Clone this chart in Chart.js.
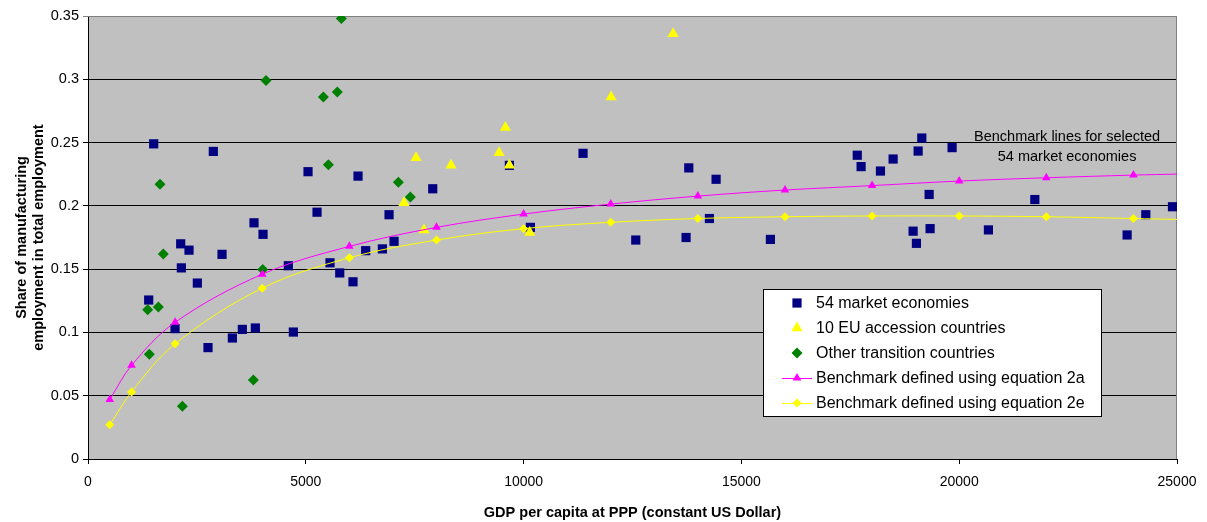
<!DOCTYPE html>
<html>
<head>
<meta charset="utf-8">
<script src="https://cdn.jsdelivr.net/npm/chart.js@4.4.0/dist/chart.umd.min.js"></script>
<style>
  html, body { margin: 0; padding: 0; background: #fff; }
  #wrap { width: 1207px; height: 522px; position: relative; }
</style>
</head>
<body>
<div id="wrap"><canvas id="chart"></canvas></div>
<script>
// ---- Data ----
const marketX = [1508, 2877, 5051, 6199, 7914, 5258, 6911, 3811, 4018, 7026,
    2128, 2319, 3077, 2143, 2510, 1393, 1998, 3314, 3543, 3842,
    4714, 2755, 4599, 5556, 5779, 6084, 6375, 6758, 9674, 11365,
    13792, 14419, 10156, 12575, 13730, 14266, 15666, 17660, 17748, 18192,
    18483, 19141, 19057, 19837, 19310, 18942, 19018, 19332, 20671, 21736,
    23855, 24284, 24896];
const marketY = [0.249, 0.243, 0.227, 0.2235, 0.2135, 0.195, 0.193, 0.1866, 0.1775, 0.172,
    0.170, 0.165, 0.1617, 0.151, 0.139, 0.1256, 0.103, 0.0956, 0.1024, 0.1035,
    0.1003, 0.088, 0.1527, 0.155, 0.147, 0.140, 0.1646, 0.166, 0.232, 0.2415,
    0.230, 0.221, 0.183, 0.173, 0.175, 0.190, 0.1735, 0.240, 0.231, 0.2275,
    0.237, 0.2536, 0.2433, 0.246, 0.209, 0.180, 0.1704, 0.182, 0.181, 0.205,
    0.177, 0.193, 0.1993];

const euX = [7531, 8334, 7255, 7715, 13432, 12008, 9582, 9437, 9674, 10141];
const euY = [0.238, 0.232, 0.2025, 0.181, 0.336, 0.286, 0.262, 0.242, 0.232, 0.179];

const transX = [5816, 4087, 5403, 5724, 1653, 5518, 7125, 7400, 1729, 1370,
    1615, 1408, 2166, 3796, 4011];
const transY = [0.348, 0.299, 0.286, 0.290, 0.217, 0.2325, 0.2186, 0.207, 0.162, 0.118,
    0.120, 0.0827, 0.0416, 0.0624, 0.1498];

const benchX = [500, 1000, 2000, 4000, 6000, 8000, 10000, 12000, 14000, 16000,
    18000, 20000, 22000, 24000, 25000];
const bench2a = [0.047, 0.074, 0.108, 0.146, 0.168, 0.183, 0.1935, 0.2014, 0.2077, 0.2125,
    0.216, 0.2196, 0.2222, 0.2243, 0.2251];
const bench2e = [0.027, 0.053, 0.091, 0.135, 0.159, 0.173, 0.182, 0.187, 0.190, 0.1914,
    0.192, 0.192, 0.1914, 0.190, 0.1893];

const xTicks = [0, 5000, 10000, 15000, 20000, 25000];
const yTicks = [0, 0.05, 0.1, 0.15, 0.2, 0.25, 0.3, 0.35];

const seriesNames = ['54 market economies', '10 EU accession countries', 'Other transition countries',
    'Benchmark defined using equation 2a', 'Benchmark defined using equation 2e'];

const FONT = '"Liberation Sans", Arial, sans-serif';

function pts(xs, ys) {
    return xs.map((x, i) => ({ x: x, y: ys[i] }));
}

// ---- Plot background + frame ----
const frame = {
    id: 'frame',
    beforeDatasetsDraw(chart) {
        const a = chart.chartArea, ctx = chart.ctx;
        ctx.save();
        ctx.strokeStyle = '#808080';
        ctx.lineWidth = 1;
        ctx.beginPath();
        ctx.moveTo(a.left, a.top + 0.5);
        ctx.lineTo(a.right - 0.5, a.top + 0.5);
        ctx.lineTo(a.right - 0.5, a.bottom);
        ctx.stroke();
        ctx.restore();
    },
    beforeDraw(chart) {
        const a = chart.chartArea, ctx = chart.ctx;
        ctx.save();
        ctx.fillStyle = '#C0C0C0';
        ctx.fillRect(a.left, a.top, a.right - a.left, a.bottom - a.top);
        ctx.restore();
    }
};

// ---- Legend box + note inside the plot ----
const inlay = {
    id: 'inlay',
    afterDraw(chart) {
        const ctx = chart.ctx;
        const xs = chart.scales.x;
        const ys = chart.scales.y;
        ctx.save();

        // note near the benchmark lines
        ctx.fillStyle = '#000';
        ctx.font = '14.5px ' + FONT;
        ctx.textAlign = 'center';
        ctx.textBaseline = 'middle';
        const nx = xs.getPixelForValue(22500);
        ctx.fillText('Benchmark lines for selected', nx - 1, ys.getPixelForValue(0.2545));
        ctx.fillText('54 market economies', nx - 1, ys.getPixelForValue(0.2385));

        // legend box
        const bx = 763, by = 289, bw = 338, bh = 127;
        ctx.fillStyle = '#fff';
        ctx.fillRect(bx, by, bw, bh);
        ctx.strokeStyle = '#000';
        ctx.lineWidth = 1;
        ctx.strokeRect(bx + 0.5, by + 0.5, bw, bh);

        const sets = chart.data.datasets;
        const order = [4, 3, 2, 1, 0];
        ctx.font = '16px ' + FONT;
        ctx.textAlign = 'left';
        order.forEach((di, row) => {
            const ds = sets[di];
            const cy = 303 + row * 25;
            const mx = 797;
            if (ds.showLine) {
                ctx.strokeStyle = ds.borderColor;
                ctx.lineWidth = 1;
                ctx.beginPath();
                ctx.moveTo(782, cy + 0.5);
                ctx.lineTo(812, cy + 0.5);
                ctx.stroke();
            }
            ctx.fillStyle = ds.pointBackgroundColor;
            ctx.strokeStyle = ds.pointBorderColor;
            Chart.helpers.drawPoint(ctx, {
                pointStyle: ds.pointStyle,
                radius: ds.legendRadius,
                rotation: 0,
                borderWidth: 0
            }, mx, cy);
            ctx.fillStyle = '#000';
            ctx.fillText(seriesNames[4 - di], 816, cy + 1);
        });
        ctx.restore();
    }
};

// ---- Chart ----
const ctx = document.getElementById('chart');

new Chart(ctx, {
    type: 'scatter',
    data: {
        datasets: [
            {
                label: seriesNames[4],
                data: pts(benchX, bench2e),
                showLine: true,
                borderColor: '#FFFF00',
                borderWidth: 1,
                tension: 0.35,
                pointStyle: 'rectRot',
                pointRadius: benchX.map((x) => x > 24000 ? 0 : 4.5),
                pointBackgroundColor: '#FFFF00',
                pointBorderColor: '#FFFF00',
                pointBorderWidth: 0,
                legendRadius: 4.5,
                order: 1
            },
            {
                label: seriesNames[3],
                data: pts(benchX, bench2a),
                showLine: true,
                borderColor: '#FF00FF',
                borderWidth: 1,
                tension: 0.35,
                pointStyle: 'triangle',
                pointRadius: benchX.map((x) => x > 24000 ? 0 : 5),
                pointBackgroundColor: '#FF00FF',
                pointBorderColor: '#FF00FF',
                pointBorderWidth: 0,
                legendRadius: 5,
                order: 2
            },
            {
                label: seriesNames[2],
                data: pts(transX, transY),
                pointStyle: 'rectRot',
                pointRadius: 5.5,
                pointBackgroundColor: '#008000',
                pointBorderColor: '#008000',
                pointBorderWidth: 0,
                legendRadius: 5.5,
                order: 3
            },
            {
                label: seriesNames[1],
                data: pts(euX, euY),
                pointStyle: 'triangle',
                pointRadius: 6.5,
                pointBackgroundColor: '#FFFF00',
                pointBorderColor: '#FFFF00',
                pointBorderWidth: 0,
                legendRadius: 6.5,
                order: 4
            },
            {
                label: seriesNames[0],
                data: pts(marketX, marketY),
                pointStyle: 'rect',
                pointRadius: 6.5,
                pointBackgroundColor: '#000080',
                pointBorderColor: '#000080',
                pointBorderWidth: 0,
                legendRadius: 6.5,
                order: 5
            }
        ]
    },
    options: {
        responsive: true,
        maintainAspectRatio: false,
        animation: false,
        events: [],
        layout: {
            padding: { top: 16, right: 30, left: 0, bottom: 0 }
        },
        plugins: {
            legend: { display: false },
            tooltip: { enabled: false }
        },
        scales: {
            x: {
                type: 'linear',
                min: 0,
                max: 25000,
                afterBuildTicks: (scale) => {
                    scale.ticks = xTicks.map((v) => ({ value: v }));
                },
                afterFit: (scale) => { scale.height = 63; },
                ticks: {
                    color: '#000',
                    font: { family: FONT, size: 14 },
                    padding: 10,
                    maxRotation: 0,
                    callback: (v) => String(v)
                },
                grid: {
                    drawOnChartArea: false,
                    drawTicks: true,
                    tickLength: 5,
                    color: '#000'
                },
                border: { display: true, color: '#000', width: 1 },
                title: {
                    display: true,
                    text: 'GDP per capita at PPP (constant US Dollar)',
                    color: '#000',
                    font: { family: FONT, size: 14.5, weight: 'bold' },
                    padding: { top: 4, bottom: 0 }
                }
            },
            y: {
                type: 'linear',
                min: 0,
                max: 0.35,
                afterBuildTicks: (scale) => {
                    scale.ticks = yTicks.map((v) => ({ value: v }));
                },
                afterFit: (scale) => { scale.width = 88; },
                ticks: {
                    color: '#000',
                    font: { family: FONT, size: 14.5 },
                    padding: 4,
                    callback: (v) => String(+v.toFixed(2))
                },
                grid: {
                    drawTicks: true,
                    tickLength: 5,
                    color: (c) => (c.tick && c.tick.value > 0.34) ? '#808080' : '#000'
                },
                border: { display: true, color: '#000', width: 1 },
                title: {
                    display: true,
                    text: ['Share of manufacturing', 'employment in total employment'],
                    color: '#000',
                    font: { family: FONT, size: 14.5, weight: 'bold', lineHeight: 1.15 },
                    padding: { top: 14, bottom: 4 }
                }
            }
        }
    },
    plugins: [frame, inlay]
});
</script>
</body>
</html>
